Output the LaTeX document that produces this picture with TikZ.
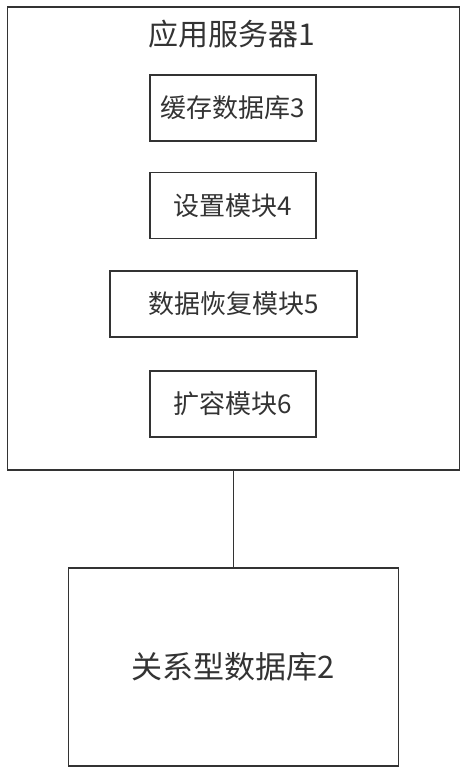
\documentclass[tikz,border=0pt]{standalone}
\usepackage{fontspec}
\newfontfamily\cjk{Noto Sans CJK SC}
\begin{document}
\begin{tikzpicture}[x=1pt, y=-1pt,
    modbox/.style={draw=black!80, line width=1.3pt, minimum width=166pt,
      minimum height=66pt, inner sep=0pt, text=black!80,
      font=\cjk\fontsize{26}{30}\selectfont},
    bigbox/.style={draw=black!80, line width=1.3pt, inner sep=0pt}]
  \useasboundingbox (0,0) rectangle (474,780);

  % Application server frame and its title
  \node[bigbox, minimum width=452pt, minimum height=463pt] (server) at (233.5,238.5) {};
  \node[text=black!80, font=\cjk\fontsize{30}{34}\selectfont] (title) at (232,34) {应用服务器1};

  % Modules inside the server
  \node[modbox] (cache) at (233,108) {缓存数据库3};
  \node[modbox] (setup) at (233,205.5) {设置模块4};
  \node[modbox, minimum width=247pt] (recover) at (233.5,304) {数据恢复模块5};
  \node[modbox] (expand) at (233,404) {扩容模块6};

  % Relational database below
  \node[bigbox, minimum width=330pt, minimum height=198pt, text=black!80,
    font=\cjk\fontsize{31}{36}\selectfont] (reldb) at (233.5,667) {关系型数据库2};

  % Link between server and database
  \draw[draw=black!80, line width=1.3pt] (server.south) -- (reldb.north);
\end{tikzpicture}
\end{document}
